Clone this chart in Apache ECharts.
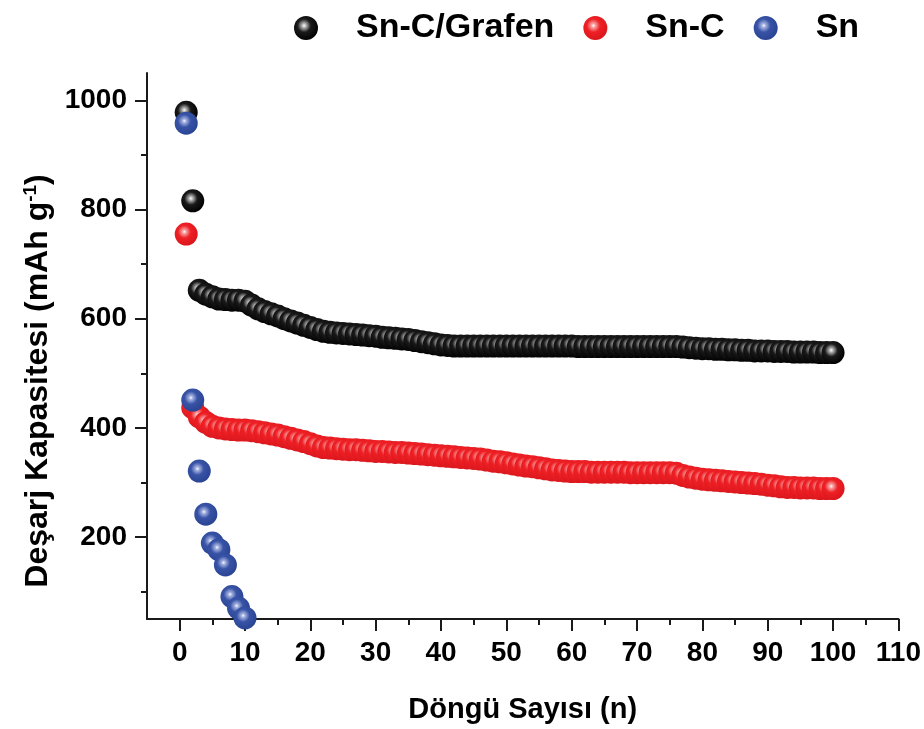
<!DOCTYPE html>
<html lang="tr">
<head>
    <meta charset="UTF-8">
    <title>Deşarj Kapasitesi</title>
    <script type="text/javascript" src="https://cdn.jsdelivr.net/npm/echarts@6/dist/echarts.min.js"></script>
    <style>
        html, body { margin: 0; padding: 0; background: #fff; }
    </style>
</head>
<body>
    <div id="main" style="width: 924px;height:729px;"></div>

    <script type="text/javascript">
        // values, one per cycle (1..100)
        var snCGrafen = [
            978, 816, 652, 645, 640, 636, 635, 634, 634, 632,
            625, 618, 613, 609, 605, 600, 596, 592, 588, 584,
            580, 577, 575, 574, 573, 572, 571, 570, 569, 568,
            566, 565, 564, 563, 562, 560, 558, 556, 554, 552,
            551, 550, 550, 550, 550, 550, 550, 550, 550, 550,
            550, 550, 550, 550, 550, 550, 550, 550, 550, 550,
            549, 549, 549, 549, 549, 549, 549, 549, 549, 549,
            549, 549, 549, 549, 549, 549, 548, 547, 546, 545,
            545, 544, 544, 543, 543, 542, 542, 541, 541, 541,
            540, 540, 540, 539, 539, 539, 539, 538, 538, 538
        ];
        var snC = [
            755, 437, 420, 410, 403, 400, 398, 397, 396, 396,
            395, 393, 391, 389, 387, 384, 381, 378, 375, 371,
            367, 364, 363, 362, 361, 360, 360, 359, 358, 357,
            357, 356, 355, 355, 354, 353, 352, 351, 350, 349,
            348, 347, 346, 345, 344, 343, 341, 339, 338, 336,
            334, 332, 330, 329, 327, 325, 323, 322, 321, 320,
            320, 320, 319, 319, 319, 319, 319, 319, 318, 318,
            318, 318, 318, 318, 318, 317, 313, 310, 308, 306,
            305, 304, 303, 302, 301, 300, 299, 298, 297, 295,
            294, 292, 291, 291, 290, 290, 290, 289, 289, 289
        ];
        var sn = [958, 451, 321, 242, 189, 177, 149, 91, 70, 52];

        var seriesNames = ['Sn-C/Grafen', 'Sn-C', 'Sn'];
        var xLabels = [0, 10, 20, 30, 40, 50, 60, 70, 80, 90, 100, 110];
        var xMinorTicks = [5, 15, 25, 35, 45, 55, 65, 75, 85, 95, 105];
        var yLabels = [200, 400, 600, 800, 1000];
        var yMinorTicks = [100, 300, 500, 700, 900];

        function toPoints(arr) {
            var pts = [];
            for (var i = 0; i < arr.length; i++) {
                pts.push([i + 1, arr[i]]);
            }
            return pts;
        }

        // glossy ball look
        function ball(light, mid, dark) {
            return new echarts.graphic.RadialGradient(0.42, 0.4, 0.62, [
                { offset: 0, color: '#ffffff' },
                { offset: 0.12, color: light },
                { offset: 0.45, color: mid },
                { offset: 1, color: dark }
            ]);
        }

        var font = 'Liberation Sans, Arial, sans-serif';
        var axisColor = '#1a1a1a';

        var myChart = echarts.init(document.getElementById('main'));
        myChart.setOption({
            animation: false,
            backgroundColor: '#ffffff',
            textStyle: { fontFamily: font, fontWeight: 'bold', color: '#000' },
            legend: {
                data: seriesNames,
                left: 289,
                top: 6,
                icon: 'circle',
                itemWidth: 24,
                itemHeight: 24,
                itemGap: 29,
                textStyle: {
                    fontSize: 34,
                    fontWeight: 'bold',
                    fontFamily: font,
                    color: '#000',
                    padding: [0, 0, 0, 33]
                }
            },
            grid: {
                left: 147,
                right: 25,
                top: 73,
                bottom: 108
            },
            xAxis: [{
                type: 'value',
                min: -5,
                max: 110,
                name: 'Döngü Sayısı (n)',
                nameLocation: 'middle',
                nameGap: 76,
                nameTextStyle: { fontSize: 29, fontWeight: 'bold', fontFamily: font, color: '#000' },
                axisLine: { onZero: false, lineStyle: { color: axisColor, width: 2 } },
                axisTick: { customValues: xLabels, length: 12, lineStyle: { color: axisColor, width: 2 } },
                axisLabel: { customValues: xLabels, fontSize: 28, fontWeight: 'bold', fontFamily: font, color: '#000', margin: 20 },
                splitLine: { show: false }
            }, {
                type: 'value',
                position: 'bottom',
                min: -5,
                max: 110,
                axisLine: { show: false, onZero: false },
                axisTick: { customValues: xMinorTicks, length: 6, lineStyle: { color: axisColor, width: 2 } },
                axisLabel: { show: false },
                splitLine: { show: false }
            }],
            yAxis: [{
                type: 'value',
                min: 50,
                max: 1050,
                name: 'Deşarj Kapasitesi (mAh g{sup|-1})',
                nameLocation: 'middle',
                nameGap: 92,
                nameTextStyle: {
                    fontSize: 32,
                    fontWeight: 'bold',
                    fontFamily: font,
                    color: '#000',
                    padding: [0, 70, 0, 0],
                    rich: {
                        sup: { fontSize: 19, fontWeight: 'bold', fontFamily: font, color: '#000', verticalAlign: 'top', padding: [0, 0, 14, 0] }
                    }
                },
                axisLine: { show: true, onZero: false, lineStyle: { color: axisColor, width: 2 } },
                axisTick: { show: true, customValues: yLabels, length: 12, lineStyle: { color: axisColor, width: 2 } },
                axisLabel: {
                    customValues: yLabels,
                    formatter: function (v) { return String(v); },
                    fontSize: 28, fontWeight: 'bold', fontFamily: font, color: '#000', margin: 20
                },
                splitLine: { show: false }
            }, {
                type: 'value',
                position: 'left',
                min: 50,
                max: 1050,
                axisLine: { show: false, onZero: false },
                axisTick: { show: true, customValues: yMinorTicks, length: 6, lineStyle: { color: axisColor, width: 2 } },
                axisLabel: { show: false },
                splitLine: { show: false }
            }],
            series: [{
                name: 'Sn-C/Grafen',
                type: 'scatter',
                symbolSize: 23,
                clip: true,
                itemStyle: { color: ball('#bdbdbd', '#1a1a1a', '#000000'), opacity: 1 },
                data: toPoints(snCGrafen)
            }, {
                name: 'Sn-C',
                type: 'scatter',
                symbolSize: 23,
                clip: true,
                itemStyle: { color: ball('#f7a8a8', '#ee2025', '#d9161c'), opacity: 1 },
                data: toPoints(snC)
            }, {
                name: 'Sn',
                type: 'scatter',
                symbolSize: 23,
                clip: true,
                itemStyle: { color: ball('#a9b5e2', '#3853a6', '#2a4393'), opacity: 1 },
                data: toPoints(sn)
            }]
        });
    </script>
</body>
</html>
